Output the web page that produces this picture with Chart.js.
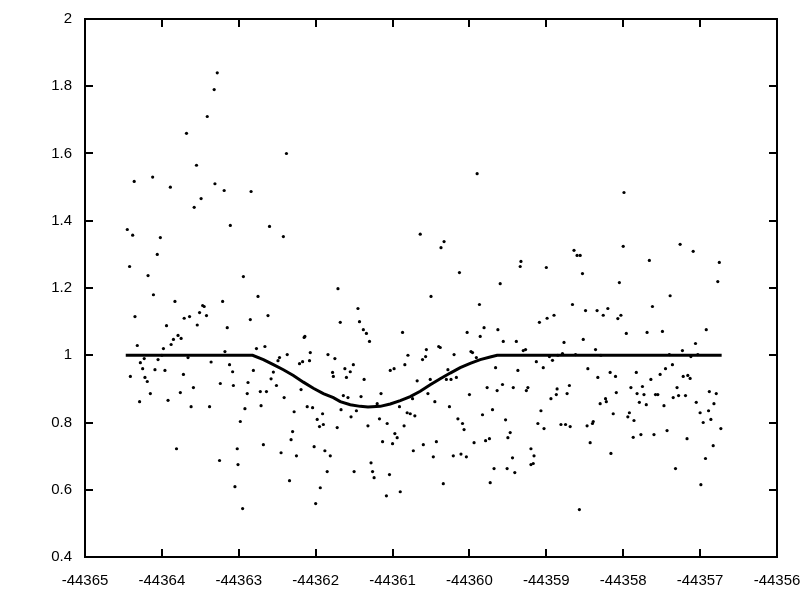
<!DOCTYPE html>
<html>
<head>
<meta charset="utf-8">
<script src="https://cdn.jsdelivr.net/npm/chart.js@4"></script>
<style>
  html, body { margin: 0; padding: 0; background: #fff; }
</style>
</head>
<body>
<canvas id="chart" width="800" height="600"></canvas>
<script>
// tick labels
const xTicks = [-44365, -44364, -44363, -44362, -44361, -44360, -44359, -44358, -44357, -44356];
const yTicks = [0.4, 0.6, 0.8, 1, 1.2, 1.4, 1.6, 1.8, 2];

// measured points (x = time, y = relative flux)
const pointX = [
  -44363.28, -44363.32, -44363.41, -44363.68, -44362.38, -44363.55, -44364.12, -44364.36, -44363.89, -44363.31,
  -44363.19, -44362.84, -44363.49, -44363.58, -44364.45, -44364.38, -44364.02, -44363.11, -44362.60, -44362.42,
  -44364.06, -44364.42, -44364.18, -44362.94, -44364.11, -44361.71, -44363.83, -44363.21, -44362.75, -44363.47,
  -44363.45, -44363.51, -44363.42, -44363.64, -44363.71, -44364.35, -44362.62, -44362.85, -44363.54, -44363.94,
  -44363.15, -44363.79, -44363.75, -44363.85, -44363.88, -44364.32, -44362.14, -44362.15, -44363.98, -44362.77,
  -44362.66, -44363.18, -44362.07, -44364.00, -44364.23, -44363.66, -44363.36, -44362.47, -44362.49, -44362.37,
  -44361.84, -44361.75, -44364.28, -44364.05, -44364.25, -44364.09, -44363.96, -44363.12, -44363.08, -44362.81,
  -44362.21, -44362.17, -44362.08, -44362.55, -44361.78, -44361.77, -44364.41, -44364.22, -44364.19, -44363.72,
  -44362.58, -44363.24, -44363.07, -44362.88, -44362.51, -44363.59, -44362.19, -44364.15, -44363.76, -44362.89,
  -44362.72, -44362.64, -44362.41, -44363.92, -44364.29, -44363.62, -44363.38, -44362.92, -44362.71, -44362.28,
  -44362.11, -44362.04, -44361.91, -44362.98, -44361.98, -44361.95, -44361.90, -44361.72, -44362.30, -44362.32,
  -44363.81, -44363.02, -44362.68, -44362.02, -44362.45, -44362.25, -44361.88, -44361.81, -44363.25, -44363.01,
  -44361.85, -44362.34, -44363.05, -44361.94, -44362.95, -44362.00, -44360.64, -44360.33, -44360.37, -44360.13,
  -44359.90, -44359.33, -44359.34, -44359.00, -44359.60, -44360.50, -44359.87, -44361.45, -44361.68, -44361.43,
  -44359.09, -44358.99, -44358.90, -44361.38, -44361.34, -44361.30, -44360.87, -44359.81, -44359.63, -44360.03,
  -44359.86, -44359.56, -44359.39, -44360.40, -44360.38, -44360.56, -44359.27, -44359.30, -44360.20, -44359.98,
  -44359.96, -44360.80, -44360.57, -44360.61, -44359.91, -44358.96, -44358.92, -44359.13, -44360.84, -44361.51,
  -44361.62, -44361.55, -44361.60, -44360.98, -44361.03, -44360.28, -44359.66, -44359.04, -44359.37, -44361.37,
  -44360.30, -44360.24, -44360.17, -44360.68, -44360.51, -44359.77, -44359.57, -44359.43, -44359.24, -44359.26,
  -44358.86, -44358.87, -44359.64, -44361.64, -44361.58, -44361.41, -44361.15, -44360.54, -44360.00, -44358.94,
  -44361.67, -44361.47, -44361.20, -44360.91, -44360.74, -44360.45, -44360.26, -44359.70, -44359.83, -44359.07,
  -44361.54, -44360.81, -44360.77, -44360.71, -44361.17, -44360.15, -44360.09, -44360.07, -44359.53, -44361.32,
  -44361.07, -44360.85, -44359.11, -44359.03, -44360.97, -44360.94, -44359.47, -44359.50, -44361.13, -44361.00,
  -44360.43, -44360.60, -44359.94, -44359.79, -44359.74, -44360.73, -44359.20, -44359.16, -44360.47, -44360.21,
  -44360.11, -44360.04, -44359.44, -44359.20, -44359.17, -44361.28, -44361.50, -44361.26, -44361.24, -44361.04,
  -44359.68, -44359.51, -44359.41, -44360.34, -44359.73, -44361.08, -44360.90, -44357.99, -44358.64, -44358.60,
  -44358.56, -44358.53, -44358.00, -44357.26, -44357.09, -44357.66, -44356.75, -44356.77, -44358.05, -44357.39,
  -44358.66, -44357.62, -44358.49, -44358.34, -44358.26, -44358.20, -44358.07, -44358.03, -44357.96, -44357.69,
  -44357.49, -44356.92, -44358.77, -44358.52, -44357.06, -44358.36, -44357.23, -44358.79, -44358.85, -44358.62,
  -44358.29, -44357.40, -44357.12, -44357.03, -44358.46, -44358.33, -44358.17, -44358.10, -44357.83, -44357.64,
  -44357.52, -44357.45, -44357.36, -44357.22, -44357.16, -44357.13, -44358.70, -44357.90, -44357.75, -44357.30,
  -44358.73, -44358.09, -44357.82, -44357.73, -44357.58, -44357.55, -44357.28, -44357.19, -44357.35, -44356.88,
  -44356.79, -44358.23, -44358.81, -44358.75, -44358.69, -44358.47, -44358.40, -44358.39, -44358.43, -44358.30,
  -44358.22, -44358.13, -44358.16, -44357.94, -44357.92, -44357.86, -44357.87, -44357.79, -44357.70, -44357.77,
  -44357.60, -44357.43, -44357.47, -44357.32, -44357.17, -44357.05, -44357.00, -44356.89, -44356.96, -44356.86,
  -44356.82, -44356.83, -44356.93, -44356.99, -44356.73, -44358.57
];
const pointY = [
  1.84, 1.79, 1.71, 1.66, 1.60, 1.565, 1.53, 1.517, 1.50, 1.51,
  1.49, 1.487, 1.466, 1.44, 1.374, 1.357, 1.35, 1.386, 1.383, 1.353,
  1.30, 1.264, 1.237, 1.234, 1.18, 1.198, 1.16, 1.16, 1.175, 1.148,
  1.145, 1.127, 1.118, 1.115, 1.11, 1.115, 1.118, 1.106, 1.09, 1.088,
  1.082, 1.059, 1.05, 1.047, 1.032, 1.029, 1.056, 1.053, 1.02, 1.02,
  1.026, 1.011, 1.008, 1.0, 0.99, 0.993, 0.98, 0.993, 0.984, 1.002,
  1.002, 0.99, 0.978, 0.987, 0.96, 0.957, 0.955, 0.972, 0.951, 0.955,
  0.975, 0.981, 0.984, 0.95, 0.949, 0.937, 0.937, 0.934, 0.922, 0.943,
  0.93, 0.916, 0.91, 0.919, 0.91, 0.904, 0.898, 0.886, 0.889, 0.886,
  0.892, 0.892, 0.874, 0.866, 0.862, 0.847, 0.847, 0.841, 0.85, 0.832,
  0.847, 0.844, 0.826, 0.803, 0.809, 0.788, 0.794, 0.785, 0.773, 0.749,
  0.722, 0.722, 0.734, 0.728, 0.71, 0.701, 0.716, 0.701, 0.687, 0.675,
  0.654, 0.627, 0.609, 0.606, 0.544, 0.559, 1.36, 1.338, 1.32, 1.246,
  1.54, 1.279, 1.264, 1.261, 1.213, 1.175, 1.151, 1.139, 1.098, 1.10,
  1.098, 1.11, 1.119, 1.076, 1.065, 1.041, 1.068, 1.082, 1.076, 1.068,
  1.056, 1.041, 1.041, 1.026, 1.023, 1.017, 1.017, 1.014, 1.002, 1.011,
  1.008, 1.0, 0.996, 0.987, 0.993, 0.996, 0.985, 0.981, 0.972, 0.972,
  0.96, 0.951, 0.934, 0.96, 0.955, 0.957, 0.963, 0.963, 0.955, 0.928,
  0.928, 0.928, 0.934, 0.924, 0.928, 0.904, 0.913, 0.904, 0.904, 0.895,
  0.90, 0.883, 0.895, 0.88, 0.874, 0.877, 0.886, 0.886, 0.883, 0.871,
  0.838, 0.835, 0.856, 0.847, 0.871, 0.862, 0.847, 0.838, 0.823, 0.835,
  0.817, 0.829, 0.826, 0.82, 0.811, 0.811, 0.797, 0.779, 0.808, 0.79,
  0.797, 0.79, 0.797, 0.782, 0.767, 0.755, 0.77, 0.755, 0.743, 0.737,
  0.743, 0.734, 0.74, 0.746, 0.752, 0.716, 0.722, 0.701, 0.698, 0.701,
  0.706, 0.698, 0.695, 0.675, 0.678, 0.68, 0.654, 0.654, 0.636, 0.645,
  0.663, 0.663, 0.651, 0.618, 0.621, 0.582, 0.594, 1.484, 1.312, 1.297,
  1.297, 1.243, 1.324, 1.33, 1.309, 1.282, 1.276, 1.219, 1.216, 1.177,
  1.151, 1.145, 1.133, 1.133, 1.119, 1.139, 1.109, 1.119, 1.065, 1.068,
  1.071, 1.076, 1.038, 1.047, 1.035, 1.017, 1.014, 1.005, 1.0, 1.002,
  1.0, 1.002, 0.996, 1.002, 0.96, 0.934, 0.949, 0.937, 0.949, 0.928,
  0.943, 0.96, 0.972, 0.937, 0.94, 0.931, 0.91, 0.904, 0.907, 0.904,
  0.886, 0.889, 0.886, 0.883, 0.883, 0.883, 0.88, 0.88, 0.874, 0.892,
  0.886, 0.871, 0.794, 0.794, 0.788, 0.79, 0.797, 0.803, 0.74, 0.856,
  0.862, 0.826, 0.708, 0.817, 0.829, 0.806, 0.756, 0.86, 0.853, 0.764,
  0.764, 0.776, 0.85, 0.663, 0.752, 0.86, 0.829, 0.835, 0.80, 0.809,
  0.856, 0.731, 0.693, 0.615, 0.782, 0.541
];

// model curve
const modelX = [-44364.47, -44362.82, -44362.68, -44362.55, -44362.42, -44362.29, -44362.16, -44362.03, -44361.90, -44361.77,
  -44361.68, -44361.55, -44361.42, -44361.32, -44361.16, -44361.03, -44360.90, -44360.77, -44360.64, -44360.51,
  -44360.38, -44360.25, -44360.12, -44359.99, -44359.86, -44359.73, -44359.64, -44356.72];
const modelY = [1, 1, 0.987, 0.972, 0.957, 0.94, 0.92, 0.902, 0.886, 0.874,
  0.862, 0.853, 0.848, 0.846, 0.848, 0.855, 0.865, 0.877, 0.893, 0.912,
  0.93, 0.947, 0.963, 0.976, 0.987, 0.995, 1, 1];

const scatterData = pointX.map((x, i) => ({x: x, y: pointY[i]}));
const modelData = modelX.map((x, i) => ({x: x, y: modelY[i]}));

// gnuplot style frame: box with ticks pointing inwards on all four sides
const frame = {
  id: 'frame',
  afterDraw(chart) {
    const ctx = chart.ctx, a = chart.chartArea;
    const sx = chart.scales.x, sy = chart.scales.y;
    ctx.save();
    ctx.strokeStyle = '#000';
    ctx.lineWidth = 2;
    ctx.beginPath();
    xTicks.forEach(v => {
      const p = Math.round(sx.getPixelForValue(v));
      ctx.moveTo(p, a.bottom); ctx.lineTo(p, a.bottom - 8);
      ctx.moveTo(p, a.top); ctx.lineTo(p, a.top + 8);
    });
    yTicks.forEach(v => {
      const p = Math.round(sy.getPixelForValue(v));
      ctx.moveTo(a.left, p); ctx.lineTo(a.left + 8, p);
      ctx.moveTo(a.right, p); ctx.lineTo(a.right - 8, p);
    });
    ctx.stroke();
    ctx.strokeRect(a.left, a.top, a.right - a.left, a.bottom - a.top);
    ctx.restore();
  }
};

const ctx = document.getElementById('chart').getContext('2d');
new Chart(ctx, {
  type: 'scatter',
  data: {
    datasets: [{
      label: 'model',
      type: 'line',
      data: modelData,
      borderColor: '#000',
      borderWidth: 3,
      pointRadius: 0,
      tension: 0,
      fill: false,
      order: 0
    }, {
      label: 'data',
      data: scatterData,
      backgroundColor: '#000',
      borderColor: '#000',
      pointRadius: 1.6,
      borderWidth: 0,
      order: 1
    }]
  },
  options: {
    responsive: false,
    animation: false,
    layout: { padding: { top: 19, right: 23, left: 0, bottom: 0 } },
    plugins: { legend: { display: false }, tooltip: { enabled: false } },
    scales: {
      x: {
        type: 'linear',
        min: -44365, max: -44356,
        afterBuildTicks: s => { s.ticks = xTicks.map(v => ({value: v})); },
        afterFit: s => { s.height = 43; s.paddingLeft = 0; s.paddingRight = 0; },
        grid: { display: false, drawTicks: false },
        border: { display: false },
        ticks: {
          color: '#000', padding: 15, maxRotation: 0, autoSkip: false,
          font: { family: 'Liberation Sans, Arial, sans-serif', size: 15 },
          callback: v => String(v)
        }
      },
      y: {
        type: 'linear',
        min: 0.4, max: 2,
        afterBuildTicks: s => { s.ticks = yTicks.map(v => ({value: v})); },
        afterFit: s => { s.width = 85; s.paddingTop = 0; s.paddingBottom = 0; },
        grid: { display: false, drawTicks: false },
        border: { display: false },
        ticks: {
          color: '#000', padding: 13,
          font: { family: 'Liberation Sans, Arial, sans-serif', size: 15 },
          callback: v => String(Math.round(v * 10) / 10)
        }
      }
    }
  },
  plugins: [frame]
});
</script>
</body>
</html>
